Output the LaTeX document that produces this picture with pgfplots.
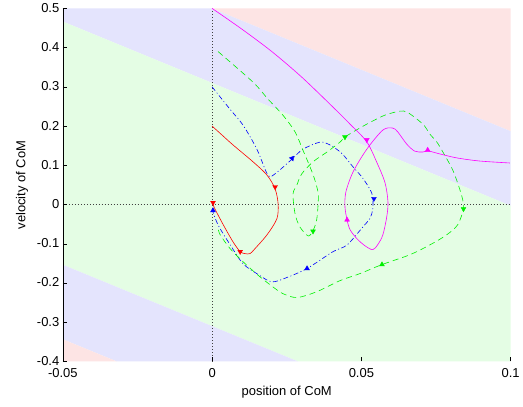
\documentclass[border=0pt]{standalone}
\usepackage{fontspec}
\setmainfont{Liberation Sans}
\usepackage{pgfplots}
\pgfplotsset{compat=1.18}
\definecolor{bgpink}{RGB}{253,228,228}
\definecolor{bglav}{RGB}{228,228,253}
\definecolor{bggreen}{RGB}{228,253,228}
\definecolor{mred}{RGB}{255,0,0}
\definecolor{mblue}{RGB}{0,0,255}
\definecolor{mgreen}{RGB}{0,240,0}
\definecolor{mmag}{RGB}{255,0,255}
\begin{document}
\begin{tikzpicture}
\begin{axis}[
  width=449pt, height=354pt, scale only axis,
  xmin=-0.05, xmax=0.1, ymin=-0.4, ymax=0.5,
  axis lines*=left,
  x axis line style={draw=none},
  y axis line style={black, line width=0.6pt},
  axis on top,
  tick align=inside, major tick length=4pt,
  tick style={black, line width=0.5pt},
  xtick={-0.05,0,0.05,0.1},
  xticklabels={-0.05,0,0.05,0.1},
  ytick={-0.4,-0.3,-0.2,-0.1,0,0.1,0.2,0.3,0.4,0.5},
  yticklabels={-0.4,-0.3,-0.2,-0.1,0,0.1,0.2,0.3,0.4,0.5},
  tick label style={font=\fontsize{13}{15}\selectfont},
  xticklabel style={yshift=-3pt},
  yticklabel style={yshift=0.5pt},
  label style={font=\fontsize{13}{15}\selectfont},
  xlabel={position of CoM},
  xlabel style={yshift=-2pt},
  ylabel={velocity of CoM},
  ylabel style={yshift=2pt},
  clip=true,
]
% background regions
\addplot[fill=bgpink, draw=none] coordinates {(0,0.5) (0.1,0.5) (0.1,0.187)} -- cycle;
\addplot[fill=bglav, draw=none] coordinates {(-0.05,0.5) (0,0.5) (0.1,0.187) (0.1,-0.003) (-0.05,0.4665)} -- cycle;
\addplot[fill=bggreen, draw=none] coordinates {(-0.05,0.4665) (0.1,-0.003) (0.1,-0.4) (0.0288,-0.4) (-0.05,-0.1535)} -- cycle;
\addplot[fill=bglav, draw=none] coordinates {(-0.05,-0.1535) (0.0288,-0.4) (-0.0319,-0.4) (-0.05,-0.3435)} -- cycle;
\addplot[fill=bgpink, draw=none] coordinates {(-0.05,-0.3435) (-0.0319,-0.4) (-0.05,-0.4)} -- cycle;
% zero lines
\addplot[black!75, line width=0.6pt, dash pattern=on 0.8pt off 2.2pt] coordinates {(0,-0.4) (0,0.5)};
\addplot[black!75, line width=0.6pt, dash pattern=on 0.8pt off 2.2pt] coordinates {(-0.05,0) (0.1,0)};
% red trajectory
\addplot[mred, line width=0.6pt, smooth, tension=0.5] coordinates {
(0,0.2) (0.0035,0.176) (0.007,0.152) (0.0137,0.109) (0.0184,0.075) (0.0211,0.04)
(0.0221,0.002) (0.0217,-0.036) (0.0184,-0.077) (0.0144,-0.112) (0.0127,-0.125)
(0.0110,-0.125) (0.0094,-0.12) (0.007,-0.095) (0.0037,-0.051) (0.001,-0.012) (0.0003,0)};
% blue trajectory
\addplot[mblue, line width=0.6pt, smooth, tension=0.5, dash pattern=on 5pt off 2.5pt on 1pt off 2.5pt] coordinates {
(0,0.3) (0.006,0.243) (0.0104,0.202) (0.015,0.141) (0.0187,0.075)
(0.021,0.078) (0.0268,0.116) (0.0304,0.141) (0.0361,0.159) (0.0395,0.152) (0.0435,0.13)
(0.0472,0.096) (0.0502,0.07) (0.0528,0.04) (0.0538,0.02) (0.0538,-0.013) (0.0528,-0.036)
(0.0505,-0.057) (0.0452,-0.103) (0.0405,-0.12) (0.0318,-0.163) (0.025,-0.186) (0.020,-0.197)
(0.0154,-0.178) (0.0104,-0.151) (0.006,-0.102) (0.002,-0.052) (0.0003,-0.019)};
% green trajectory
\addplot[mgreen, line width=0.6pt, smooth, tension=0.5, dash pattern=on 6pt off 4pt] coordinates {
(0.002,0.39) (0.0137,0.312) (0.0187,0.269) (0.0237,0.228) (0.0278,0.185) (0.0304,0.139)
(0.0328,0.096) (0.0344,0.063) (0.0355,0.03) (0.0355,0.0) (0.035,-0.04) (0.0338,-0.066)
(0.0322,-0.080) (0.0294,-0.057) (0.0278,-0.024) (0.0271,0.027) (0.0284,0.05) (0.030,0.078)
(0.0338,0.109) (0.0385,0.134) (0.0428,0.159) (0.0445,0.172) (0.0472,0.185) (0.0518,0.205)
(0.0579,0.228) (0.0629,0.238) (0.0652,0.236) (0.0686,0.218) (0.0712,0.2) (0.0729,0.18)
(0.0753,0.159) (0.0773,0.134) (0.0806,0.088) (0.0829,0.04) (0.0840,0.01) (0.0842,-0.011)
(0.0823,-0.051) (0.0786,-0.077) (0.0729,-0.103) (0.0662,-0.128) (0.0569,-0.153)
(0.0495,-0.176) (0.0428,-0.194) (0.0351,-0.222) (0.0284,-0.237) (0.0237,-0.227)
(0.0211,-0.214) (0.016,-0.184) (0.0104,-0.146) (0.006,-0.112) (0.0027,-0.077) (0.002,-0.06)};
% magenta trajectory
\addplot[mmag, line width=0.6pt, smooth, tension=0.5] coordinates {
(0,0.5) (0.01,0.447) (0.02,0.39) (0.03,0.325) (0.04,0.252) (0.0462,0.205)
(0.0518,0.16) (0.0552,0.107) (0.0579,0.056) (0.0589,0.007) (0.0585,-0.031) (0.0572,-0.077)
(0.0555,-0.102) (0.0538,-0.115) (0.0512,-0.105) (0.0485,-0.087) (0.0462,-0.064)
(0.0452,-0.039) (0.0445,-0.006) (0.0448,0.032) (0.0472,0.083) (0.0518,0.141) (0.0572,0.19)
(0.0605,0.195) (0.0622,0.185) (0.0652,0.154) (0.0679,0.136) (0.0706,0.134) (0.0722,0.137)
(0.0763,0.129) (0.0819,0.119) (0.0896,0.111) (0.0997,0.106)};
% direction markers
\addplot[only marks, mark=triangle*, mark size=2.8pt, mred, mark options={rotate=180}] coordinates {(0.0211,0.045) (0.0094,-0.12) (0.0003,0.005)};
\addplot[only marks, mark=triangle*, mark size=2.8pt, mblue, mark options={rotate=180}] coordinates {(0.0542,0.015)};
\addplot[only marks, mark=triangle*, mark size=2.8pt, mblue, mark options={rotate=-40}] coordinates {(0.0268,0.118)};
\addplot[only marks, mark=triangle*, mark size=2.8pt, mblue] coordinates {(0.0318,-0.163) (0.0003,-0.015)};
\addplot[only marks, mark=triangle*, mark size=2.8pt, mgreen, mark options={rotate=180}] coordinates {(0.0338,-0.068) (0.0445,0.172) (0.0842,-0.011)};
\addplot[only marks, mark=triangle*, mark size=2.8pt, mgreen] coordinates {(0.0569,-0.153)};
\addplot[only marks, mark=triangle*, mark size=2.8pt, mmag, mark options={rotate=180}] coordinates {(0.0518,0.165)};
\addplot[only marks, mark=triangle*, mark size=2.8pt, mmag] coordinates {(0.0452,-0.039) (0.0722,0.139)};
\end{axis}
\path (current axis.south west) ++(-63pt,-45pt) (current axis.north east) ++(11pt,6pt);
\end{tikzpicture}
\end{document}
